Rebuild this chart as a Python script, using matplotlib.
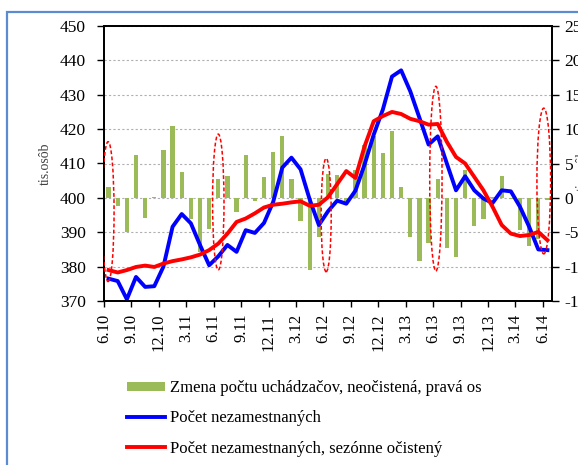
import numpy as np
import matplotlib
matplotlib.use("Agg")
import matplotlib.pyplot as plt
from matplotlib.patches import Ellipse, Rectangle

plt.rcParams['font.family'] = ['Liberation Serif', 'DejaVu Serif']
plt.rcParams['axes.unicode_minus'] = False

# monthly data, 6.2010 - 6.2014
tick_labels = ["6.10", "9.10", "12.10", "3.11", "6.11", "9.11", "12.11", "3.12", "6.12",
               "9.12", "12.12", "3.13", "6.13", "9.13", "12.13", "3.14", "6.14"]

# change in job seekers, not adjusted (right axis, tis. osob)
zmena = [1.6, -1.2, -4.9, 6.3, -2.9, 0.1, 6.9, 10.4, 3.8, -3.0, -7.8, -4.5,
         2.8, 3.2, -2.0, 6.3, -0.4, 3.0, 6.6, 9.0, 2.8, -3.4, -10.5, -5.7,
         3.5, 3.4, -0.5, 4.1, 7.7, 9.0, 6.5, 9.7, 1.6, -5.7, -9.2, -6.6,
         2.7, -7.3, -8.6, 4.1, -4.1, -3.0, 0.1, 3.2, -0.2, -4.7, -7.0, -6.0, -0.3]

# number of unemployed (left axis)
pocet = [376.5, 375.8, 370.5, 377.0, 374.1, 374.3, 380.0, 391.6, 395.3, 392.6, 386.3, 380.4,
         383.0, 386.3, 384.3, 390.6, 389.8, 392.7, 398.8, 408.8, 411.7, 408.3, 399.5, 392.1,
         396.1, 399.2, 398.3, 402.1, 409.7, 418.4, 425.7, 435.3, 437.1, 431.0, 423.3, 415.5,
         417.9, 410.0, 402.2, 406.3, 402.2, 399.8, 398.5, 402.2, 401.9, 397.4, 391.6, 385.0, 384.8]

# number of unemployed, seasonally adjusted (left axis)
pocet_sa = [379.0, 378.3, 379.0, 379.9, 380.3, 379.9, 380.9, 381.6, 382.1, 382.7, 383.5, 384.8,
            386.7, 389.6, 393.0, 394.0, 395.5, 397.2, 398.0, 398.3, 398.7, 399.0, 397.7, 398.0,
            400.2, 404.0, 407.8, 405.8, 415.0, 422.3, 423.8, 425.0, 424.4, 423.0, 422.3, 421.3,
            421.5, 416.3, 411.9, 410.0, 406.1, 402.2, 397.4, 392.1, 389.6, 388.9, 389.2, 390.1, 387.7]

# dashed ellipses marking June months: centre x, centre y, width, height
ell_x = [0.45, 12.5, 24.3, 36.3, 48.1]
ell_y = [396.0, 398.8, 395.0, 405.6, 404.9]
ell_w = [1.3, 1.25, 1.1, 1.35, 1.5]
ell_h = [40.7, 39.5, 33.0, 53.7, 42.4]

x = np.arange(len(pocet)) + 0.5

fig = plt.figure(figsize=(5.78, 4.65), dpi=100)
ax = fig.add_axes([104 / 578, 1 - 301 / 465, 448 / 578, 275 / 465])
ax2 = ax.twinx()
ax.set_zorder(ax2.get_zorder() + 1)
ax.patch.set_visible(False)

# bars on right axis
ax2.bar(x, zmena, width=0.48, color='#9BBB59', zorder=2,
        label='Zmena počtu uchádzačov, neočistená, pravá os')
ax2.set_ylim(-15, 25)
ax2.set_yticks(np.arange(-15, 26, 5))
ax2.set_axisbelow(True)
ax2.yaxis.grid(True, linestyle=(0, (2, 2)), color='#B0B0B0', linewidth=0.8)
ax2.tick_params(axis='y', direction='out', length=5, width=1, labelsize=12.5, pad=4)

# lines on left axis
ax.plot(x, pocet, color='#0000FF', linewidth=2.8, solid_joinstyle='round',
        label='Počet nezamestnaných')
ax.plot(x, pocet_sa, color='#FF0000', linewidth=2.8, solid_joinstyle='round',
        label='Počet nezamestnaných, sezónne očistený')

for cx, cy, w, h in zip(ell_x, ell_y, ell_w, ell_h):
    ax.add_patch(Ellipse((cx, cy), w, h, fill=False, edgecolor='#FF0000',
                         linestyle=(0, (2.5, 1.5)), linewidth=1.1, zorder=5))

ax.set_xlim(0, len(pocet))
ax.set_ylim(370, 450)
ax.set_yticks(np.arange(370, 451, 10))
ax.set_xticks(np.arange(0, len(pocet), 3))
ax.set_xticklabels(tick_labels, rotation=90)
ax.tick_params(axis='y', direction='out', length=5, width=1, labelsize=12.5, pad=8)
ax.tick_params(axis='x', direction='out', length=4, width=1, labelsize=12, pad=5)

for s in ax.spines.values():
    s.set_linewidth(1.3)
for s in ax2.spines.values():
    s.set_linewidth(1.3)

ax.set_ylabel('tis.osôb', fontsize=10, color='#404040', labelpad=6)
fig.text(576 / 578, 1 - 170 / 465, 'tis.osôb', rotation=90, fontsize=10,
         color='#404040', ha='left', va='center')

# legend below
h1, l1 = ax2.get_legend_handles_labels()
h2, l2 = ax.get_legend_handles_labels()
leg = fig.legend(h1 + h2, l1 + l2, loc='upper left', bbox_to_anchor=(120 / 578, 1 - 373.5 / 465),
                 frameon=False, fontsize=12, handlelength=2.3, handleheight=0.45,
                 labelspacing=0.85, handletextpad=0.3, borderaxespad=0)

# outer chart border
fig.add_artist(Rectangle((6.7 / 578, -0.1), 2, 1 - 12.3 / 465 + 0.1, transform=fig.transFigure,
                         fill=False, edgecolor='#5B8BD0', linewidth=1.6))

fig.savefig('out.png', dpi=100)
